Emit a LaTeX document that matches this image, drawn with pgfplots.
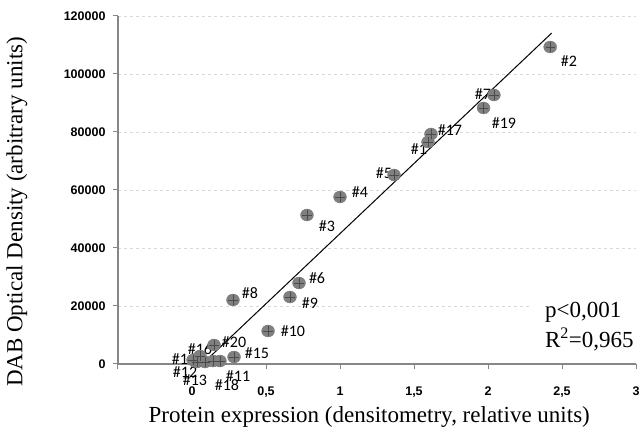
\documentclass[border=0pt]{standalone}
\usepackage{pgfplots}
\pgfplotsset{compat=1.18}
\usepackage{pgfplotstable}
\usepackage{fontspec}
\setmainfont{Liberation Serif}
\setsansfont{Liberation Sans}
\newfontfamily\lblfont{Carlito}
\definecolor{axgray}{RGB}{134,134,134}
\definecolor{gridgray}{RGB}{217,217,217}
\definecolor{dotgray}{RGB}{128,128,128}
\definecolor{crossgray}{RGB}{75,75,75}

% sample x y
\pgfplotstableread{
x y
1.595 76550
2.42 109310
0.777 51380
1.0 57590
1.365 65170
0.723 27930
2.04 92760
0.277 22070
0.662 23100
0.514 11380
0.189 1030
0.034 690
0.088 690
0.007 1380
0.284 2410
0.054 2760
1.615 79310
0.142 1030
1.97 88280
0.149 6550
}\datatable

\pgfplotstableread{
x y
0.07 0
2.43 114100
}\fittable

\tikzset{lbl/.style={font=\lblfont\fontsize{16}{16}\selectfont, inner sep=0pt, anchor=center}}

\begin{document}
\begin{tikzpicture}[x=1pt,y=1pt]
\path[use as bounding box] (0,0) rectangle (643,436);
\begin{axis}[
  at={(118pt,72pt)}, anchor=south west,
  width=518pt, height=348pt, scale only axis,
  xmin=-0.5, xmax=3, ymin=0, ymax=120000,
  axis x line=bottom, axis y line=left,
  axis line style={-, axgray, line width=1.3pt},
  scaled y ticks=false, scaled x ticks=false,
  xtick={-0.5,0,0.5,1,1.5,2,2.5,3},
  xticklabels={,0,{0,5},1,{1,5},2,{2,5},3},
  ytick={0,20000,40000,60000,80000,100000,120000},
  yticklabels={0,20000,40000,60000,80000,100000,120000},
  yticklabel style={font=\sffamily\bfseries\fontsize{12.5}{14}\selectfont, xshift=-4pt},
  xticklabel style={font=\sffamily\bfseries\fontsize{12.5}{14}\selectfont, yshift=-14pt},
  tick style={axgray, line width=1pt}, major tick length=5pt, tick align=outside,
  ymajorgrids, grid style={dashed, gridgray, line width=0.8pt},
  xlabel={Protein expression (densitometry, relative units)},
  ylabel={DAB Optical Density (arbitrary units)},
  label style={font=\fontsize{23}{27}\selectfont},
  xlabel style={at={(axis description cs:0.485,-0.152)}, anchor=center},
  ylabel style={at={(axis description cs:-0.195,0.437)}, anchor=center},
  clip=false,
]
\addplot[only marks, mark=*, mark size=6pt,
  mark options={fill=dotgray, draw=dotgray!90!black, line width=0.3pt, xscale=1.08}] table[x=x,y=y] {\datatable};
\addplot[only marks, mark=+, mark size=4.6pt,
  mark options={draw=crossgray, line width=0.6pt}] table[x=x,y=y] {\datatable};
\addplot[black, line width=1pt, no marks] table[x=x,y=y] {\fittable};

\node[lbl] at (axis cs:2.547,104480) {\#2};
\node[lbl] at (axis cs:1.966,93100) {\#7};
\node[lbl] at (axis cs:2.108,83100) {\#19};
\node[lbl] at (axis cs:1.743,80690) {\#17};
\node[lbl] at (axis cs:1.534,74140) {\#1};
\node[lbl] at (axis cs:1.297,65860) {\#5};
\node[lbl] at (axis cs:1.135,59310) {\#4};
\node[lbl] at (axis cs:0.912,47590) {\#3};
\node[lbl] at (axis cs:0.845,29660) {\#6};
\node[lbl] at (axis cs:0.797,21030) {\#9};
\node[lbl] at (axis cs:0.392,24480) {\#8};
\node[lbl] at (axis cs:0.682,11380) {\#10};
\node[lbl] at (axis cs:0.439,3790) {\#15};
\node[lbl] at (axis cs:0.284,7590) {\#20};
\node[lbl] at (axis cs:0.054,5170) {\#16};
\node[lbl] at (axis cs:-0.054,1720) {\#14};
\node[lbl] at (axis cs:-0.047,-2760) {\#12};
\node[lbl] at (axis cs:0.02,-5520) {\#13};
\node[lbl] at (axis cs:0.311,-4140) {\#11};
\node[lbl] at (axis cs:0.236,-7240) {\#18};

\node[fill=white, inner xsep=14pt, inner ysep=4pt, anchor=west, align=left,
  font=\fontsize{23}{30}\selectfont] at (axis description cs:0.797,0.106)
  {p<0,001\\R\textsuperscript{2}=0,965};
\end{axis}
\end{tikzpicture}
\end{document}
